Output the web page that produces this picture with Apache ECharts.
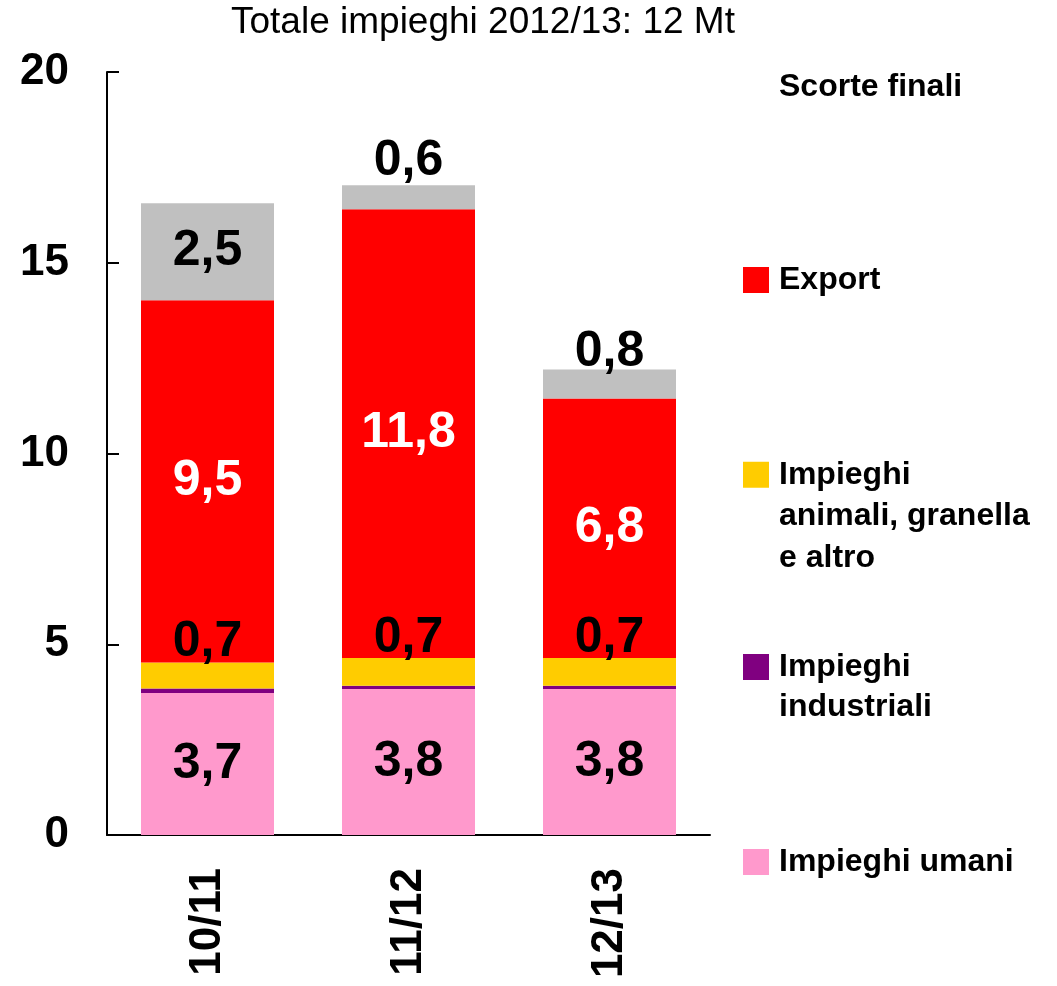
<!DOCTYPE html>
<html>
<head>
<meta charset="utf-8">
<script src="https://cdn.jsdelivr.net/npm/echarts@6/dist/echarts.min.js"></script>
<style>html,body{margin:0;padding:0;background:#fff}#c{width:1057px;height:986px}</style>
</head>
<body>
<div id="c"></div>
<script>
const categories = ['10/11', '11/12', '12/13'];
const impieghiUmani = [3.72, 3.83, 3.83];
const impieghiIndustriali = [0.12, 0.08, 0.08];
const impieghiAnimali = [0.68, 0.73, 0.73];
const exportVals = [9.5, 11.76, 6.8];
const scorteFinali = [2.54, 0.63, 0.76];
const yTicks = [0, 5, 10, 15, 20];
const titleText = 'Totale impieghi 2012/13: 12 Mt';

const FONT = '"Liberation Sans", Arial, sans-serif';
const fmt = p => p.value.toFixed(1).replace('.', ',');
const labelBase = { show: true, fontFamily: FONT, fontSize: 50, fontWeight: 'bold', formatter: fmt };

const chart = echarts.init(document.getElementById('c'), null, { renderer: 'canvas' });

function legendItem(name, top, extra) {
  return Object.assign({
    data: [name], left: 743, top: top, orient: 'vertical', padding: 0,
    itemWidth: 26, itemHeight: 26, icon: 'rect', selectedMode: false,
    textStyle: { fontFamily: FONT, fontSize: 32, fontWeight: 'bold', color: '#000', lineHeight: 32, padding: [0, 0, 0, 5] }
  }, extra || {});
}

chart.setOption({
  animation: false,
  backgroundColor: '#fff',
  title: {
    text: titleText, left: 231, top: 4, padding: 0,
    textStyle: { fontFamily: FONT, fontSize: 37, fontWeight: 'normal', color: '#000' }
  },
  legend: [
    legendItem('Scorte finali', 71, { data: [{ name: 'Scorte finali', itemStyle: { opacity: 0 } }] }),
    legendItem('Export', 264),
    legendItem('Impieghi animali, granella e altro', 371, {
      formatter: () => '\n\nImpieghi\nanimali, granella\ne altro',
      textStyle: { fontFamily: FONT, fontSize: 32, fontWeight: 'bold', color: '#000', lineHeight: 41.5, padding: [0, 0, 0, 5] }
    }),
    legendItem('Impieghi industriali', 607, {
      formatter: () => '\nImpieghi\nindustriali',
      textStyle: { fontFamily: FONT, fontSize: 32, fontWeight: 'bold', color: '#000', lineHeight: 40, padding: [0, 0, 0, 5] }
    }),
    legendItem('Impieghi umani', 846)
  ],
  grid: { left: 107, right: 347, top: 72, bottom: 151, containLabel: false },
  xAxis: {
    type: 'category', data: categories,
    axisLine: { lineStyle: { color: '#000', width: 2 } },
    axisTick: { show: false },
    axisLabel: { rotate: 90, margin: 33, fontFamily: FONT, fontSize: 44, fontWeight: 'bold', color: '#000' }
  },
  yAxis: {
    type: 'value', min: 0, max: 20, interval: 5,
    axisLine: { show: true, lineStyle: { color: '#000', width: 2 } },
    axisTick: { show: true, inside: true, length: 12, lineStyle: { color: '#000', width: 2 } },
    splitLine: { show: false },
    axisLabel: { margin: 38, fontFamily: FONT, fontSize: 44, fontWeight: 'bold', color: '#000',
      formatter: v => yTicks.includes(v) ? String(v) : '' }
  },
  series: [
    { name: 'Impieghi umani', type: 'bar', stack: 'tot', barWidth: 133, data: impieghiUmani,
      itemStyle: { color: '#FF99CC' }, label: Object.assign({}, labelBase, { position: 'inside', color: '#000' }) },
    { name: 'Impieghi industriali', type: 'bar', stack: 'tot', data: impieghiIndustriali,
      itemStyle: { color: '#800080' }, label: { show: false } },
    { name: 'Impieghi animali, granella e altro', type: 'bar', stack: 'tot', data: impieghiAnimali,
      itemStyle: { color: '#FFCC00' }, label: Object.assign({}, labelBase, { position: 'top', distance: -5, color: '#000' }) },
    { name: 'Export', type: 'bar', stack: 'tot', data: exportVals,
      itemStyle: { color: '#FF0000' }, label: Object.assign({}, labelBase, { position: 'inside', color: '#fff' }) },
    { name: 'Scorte finali', type: 'bar', stack: 'tot',
      data: scorteFinali.map((v, i) => ({ value: v,
        label: i === 0 ? { position: 'inside' } : { position: 'top', distance: i === 1 ? -1 : -8 } })),
      itemStyle: { color: '#C0C0C0' }, label: Object.assign({}, labelBase, { position: 'top', color: '#000' }) }
  ]
});
</script>
</body>
</html>
